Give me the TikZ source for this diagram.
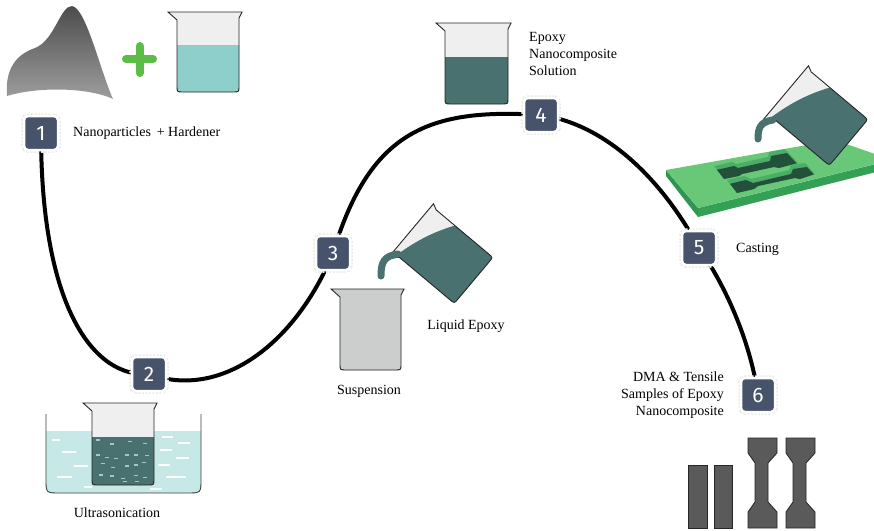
\documentclass[tikz,border=0pt]{standalone}
\usepackage{fontspec}
\setmainfont{Liberation Serif}
\newfontfamily\lblfont{Liberation Serif}
\newfontfamily\numfont{Fira Sans}
\usetikzlibrary{backgrounds}

\definecolor{badgec}{HTML}{47536B}
\definecolor{tealD}{HTML}{487170}
\definecolor{tealL}{HTML}{8FCFCB}
\definecolor{waterc}{HTML}{C6E9E7}
\definecolor{emptyc}{HTML}{EFEFEF}
\definecolor{grayfill}{HTML}{CBCECD}
\definecolor{plusg}{HTML}{5BBD45}
\definecolor{slabtop}{HTML}{68C878}
\definecolor{slabfront}{HTML}{34A056}
\definecolor{slableft}{HTML}{2E9650}
\definecolor{wallg}{HTML}{4CAE66}
\definecolor{floorg}{HTML}{22503A}
\definecolor{samplec}{HTML}{5A5A5A}
\definecolor{bubblec}{HTML}{A9C6C4}

\tikzset{
  outl/.style={draw=black!85, line width=0.9},
  lbl/.style={inner sep=0pt, font=\lblfont\fontsize{14}{17}\selectfont},
  badge/.style={fill=badgec, text=white, rounded corners=4, minimum size=34,
    inner sep=0pt, font=\numfont\fontsize{21}{21}\selectfont,
    draw=white, line width=2.5,
    preaction={draw=black!8, dash pattern=on 2pt off 1.5pt, line width=5.5}},
  route/.style={line width=4, black},
  cavity/.style={fill=wallg},
  pics/beaker/.style args={#1/#2/#3/#4}{code={
    \begin{scope}
      \clip (-9,0) -- (#1+3,0) -- (#1,6) -- (#1,#2-6) .. controls (#1,#2) .. (#1-6,#2)
        -- (6,#2) .. controls (0,#2) .. (0,#2-6) -- (0,8) -- cycle;
      \fill[emptyc] (-10,-1) rectangle (#1+4,#2+1);
      \fill[#4] (-10,#3) rectangle (#1+4,#2+1);
    \end{scope}
    \draw[outl] (-9,0) -- (#1+3,0) -- (#1,6) -- (#1,#2-6) .. controls (#1,#2) .. (#1-6,#2)
        -- (6,#2) .. controls (0,#2) .. (0,#2-6) -- (0,8) -- cycle;
  }},
  pics/pourer/.style={code={
    \begin{scope}
      \clip (-9,0) -- (63,0) -- (60,6) -- (60,74) .. controls (60,80) .. (54,80)
        -- (6,80) .. controls (0,80) .. (0,74) -- (0,8) -- cycle;
      \fill[emptyc] (-10,-1) rectangle (64,81);
      \fill[tealD] (-12,2) .. controls (22,9) and (42,18) .. (64,33) -- (64,82) -- (-12,82) -- cycle;
    \end{scope}
    \draw[outl] (-9,0) -- (63,0) -- (60,6) -- (60,74) .. controls (60,80) .. (54,80)
        -- (6,80) .. controls (0,80) .. (0,74) -- (0,8) -- cycle;
  }},
}

\begin{document}
\begin{tikzpicture}[x=1pt, y=-1pt]
\useasboundingbox (0,0) rectangle (874,530);

% ---------- step 1: nanoparticle powder + hardener ----------
\shade[top color=black!70, middle color=black!60, bottom color=black!38]
  (7,96) .. controls (5,70) and (15,55) .. (35,48)
  .. controls (55,40) and (60,6) .. (72,6)
  .. controls (86,8) and (100,70) .. (113,99)
  .. controls (90,88) and (40,86) .. cycle;
\draw[plusg, line width=8, line cap=round] (126,59) -- (153,59) (139.5,46) -- (139.5,73);
\pic at (177,12) {beaker={62/80/33/tealL}};

% ---------- step 2: ultrasonication bath ----------
\fill[waterc] (46,431) -- (46,479) .. controls (46,493) .. (60,493) -- (187,493)
  .. controls (201,493) .. (201,479) -- (201,431) -- cycle;
\foreach \xa/\xb/\yy in {62/76/452, 74/88/466, 57/72/477, 52/60/440, 84/92/487,
    162/173/437, 178/190/443, 160/172/450, 176/189/458, 158/170/465, 166/186/477, 150/162/489}
  \draw[white, line width=1.1] (\xa,\yy) -- (\xb,\yy);
\draw[draw=black!75, line width=0.9] (46,414) -- (46,479) .. controls (46,493) .. (60,493)
  -- (187,493) .. controls (201,493) .. (201,479) -- (201,414);
\pic at (92,403) {beaker={62/82/34/tealD}};
\foreach \bx/\by in {98.3/440, 111.7/444, 130/441.7, 145/443.3, 98.3/455, 106.7/457.3,
    116/458.3, 126.7/455, 136/455, 147.3/455.7, 102.7/463.3, 113.3/467.3, 126.7/466,
    136/465, 144/462.7, 100.7/475, 111.7/476, 122.7/478.3, 136/475.7, 145/477.3,
    125/481.7, 137.3/481.7}
  \draw[bubblec, line width=1.1] (\bx-2,\by) -- (\bx+2,\by);

% ---------- step 3: suspension and liquid epoxy ----------
\pic at (340,289) {beaker={61/81/-2/grayfill}};
\pic[rotate=50] at (393,252) {pourer};
\draw[tealD, line width=7, line cap=round] (398,254) .. controls (384,256) and (381,262) .. (381,276);

% ---------- step 4: epoxy nanocomposite solution ----------
\pic at (445,23) {beaker={63/81/34/tealD}};

% ---------- step 5: casting mould ----------
\fill[slableft] (666,170) -- (698,208) -- (698,217) -- (666,176) -- cycle;
\fill[slabfront] (698,208) -- (892,160) -- (892,168) -- (698,217) -- cycle;
\fill[slabtop] (666,170) -- (835,140) -- (892,160) -- (698,208) -- cycle;
% cavities: inner walls with the recessed floor seen through the opening
\def\cavA{(714,166) -- (732,162) -- (736,164) -- (768,157) -- (769,152) -- (785,149)
  -- (798,163) -- (779,168) -- (774,167) -- (742,174) -- (739,176) -- (724,179) -- cycle}
\def\cavB{(727,180) -- (744,176) -- (751,179) -- (789,170) -- (791,165) -- (805,163)
  -- (815,174) -- (800,179) -- (795,178) -- (758,186) -- (754,189) -- (737,193) -- cycle}
\fill[wallg] \cavA;
\begin{scope}
  \clip \cavA;
  \fill[floorg, shift={(2,4)}] \cavA;
\end{scope}
\fill[wallg] \cavB;
\begin{scope}
  \clip \cavB;
  \fill[floorg, shift={(2,4)}] \cavB;
\end{scope}
\pic[rotate=50] at (768,114) {pourer};
\draw[tealD, line width=7, line cap=round] (773,120) .. controls (760,122) and (758,128) .. (758,139);

% ---------- step 6: DMA bars and tensile specimens ----------
\tikzset{sample/.style={fill=samplec, draw=black!85, line width=0.8}}
\draw[sample] (688,465) rectangle (707,528);
\draw[sample] (714,465) rectangle (732,528);
\foreach \dx in {0,38}
  \draw[sample, shift={(\dx,0)}] (748,438) -- (777,438) -- (777,453) -- (768,463) -- (768,502)
    -- (777,512) -- (777,528) -- (748,528) -- (748,512) -- (755,502) -- (755,463) -- (748,453) -- cycle;

% ---------- step badges ----------
\node[badge] (b1) at (41,133) {1};
\node[badge] (b2) at (149,374) {2};
\node[badge] (b3) at (333,253) {3};
\node[badge] (b4) at (541,115) {4};
\node[badge] (b5) at (699,248) {5};
\node[badge] (b6) at (758,395) {6};

% ---------- labels ----------
\node[lbl, anchor=west] (t1) at (73,133) {Nanoparticles\, + Hardener};
\node[lbl] (t2) at (117,513) {Ultrasonication};
\node[lbl] (t3) at (369,391) {Suspension};
\node[lbl] (t3b) at (466,326) {Liquid Epoxy};
\node[lbl, anchor=west, align=left] (t4) at (529,54) {Epoxy\\Nanocomposite\\Solution};
\node[lbl, anchor=west] (t5) at (736,249) {Casting};
\node[lbl, anchor=east, align=right] (t6) at (724,395) {DMA \& Tensile\\Samples of Epoxy\\Nanocomposite};

% ---------- route through the steps, kept under everything else ----------
\begin{scope}[on background layer]
  \fill[white] (0,0) rectangle (874,530);
  \draw[route] (b1.center) .. controls (41,310) and (95,378) .. (b2.center);
  \draw[route] (b2.center) .. controls (220,400) and (295,345) .. (b3.center);
  \draw[route] (b3.center) .. controls (370,130) and (430,108) .. (b4.center);
  \draw[route] (b4.center) .. controls (610,125) and (665,185) .. (b5.center);
  \draw[route] (b5.center) .. controls (725,285) and (750,340) .. (b6.center);
\end{scope}
\end{tikzpicture}
\end{document}
